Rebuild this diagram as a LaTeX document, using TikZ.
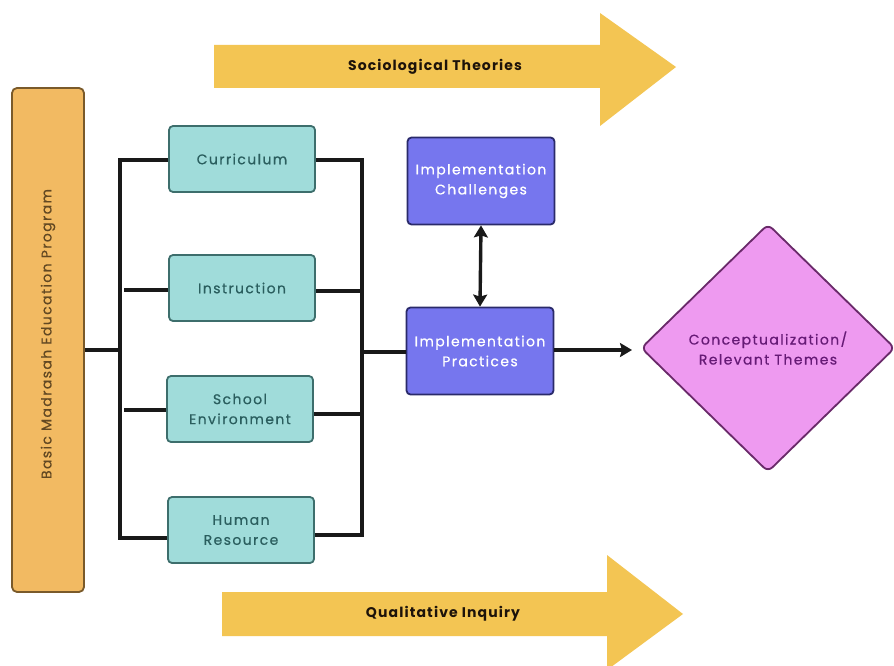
\documentclass[tikz,border=0pt]{standalone}
\usepackage{fontspec}
\setmainfont{Poppins}
\newfontfamily\lbl[LetterSpace=10,FakeBold=0.6]{Poppins}
\newfontfamily\lblb[LetterSpace=8]{Poppins}
\usetikzlibrary{shapes.geometric,arrows.meta}
\definecolor{orangefill}{HTML}{F2BA62}
\definecolor{orangeline}{HTML}{7A5A2A}
\definecolor{arrowfill}{HTML}{F3C553}
\definecolor{tealfill}{HTML}{A0DCDA}
\definecolor{tealline}{HTML}{3D6E6C}
\definecolor{tealtext}{HTML}{2A5E5E}
\definecolor{purfill}{HTML}{7676EE}
\definecolor{purline}{HTML}{2A2A6A}
\definecolor{diafill}{HTML}{EE9AF0}
\definecolor{dialine}{HTML}{6A2A6A}
\definecolor{diatext}{HTML}{661A76}
\begin{document}
\begin{tikzpicture}[x=1pt,y=-1pt,
  tealbox/.style={draw=tealline,line width=1.8pt,fill=tealfill,rounded corners=4pt,
    minimum width=146pt,minimum height=66pt,text=tealtext,align=center,
    font=\lbl\fontsize{14}{20}\selectfont,inner sep=0pt},
  purbox/.style={draw=purline,line width=1.8pt,fill=purfill,rounded corners=4pt,
    minimum width=147pt,minimum height=87pt,text=white,align=center,
    font=\lbl\fontsize{14}{20}\selectfont,inner sep=0pt},
  conn/.style={line width=3.4pt,black!90},
  bigarrow/.style={fill=arrowfill,draw=none},
  arrowtext/.style={font=\lblb\bfseries\fontsize{14}{16}\selectfont,text=black!85!brown}
]
\useasboundingbox (0,0) rectangle (894,666);
\fill[white] (0,0) rectangle (894,666);

% big arrows
\fill[bigarrow] (214,45) -- (600,45) -- (600,13) -- (676,67) -- (600,126) -- (600,88) -- (214,88) -- cycle;
\node[arrowtext] (soc) at (435,67) {Sociological Theories};
\fill[bigarrow] (222,592) -- (607,592) -- (607,555) -- (683,614) -- (607,670) -- (607,636) -- (222,636) -- cycle;
\node[arrowtext] (qual) at (443,614) {Qualitative Inquiry};

% left program box
\node[draw=orangeline,line width=1.8pt,fill=orangefill,rounded corners=5pt,
  minimum width=72pt,minimum height=504pt,inner sep=0pt] (prog) at (48,340) {};
\node[rotate=90,text=orangeline!80!black,font=\lbl\fontsize{14}{16}\selectfont] (progt) at (48,334) {Basic Madrasah Education Program};

% teal boxes
\node[tealbox] (cur) at (242,159) {Curriculum};
\node[tealbox] (ins) at (242,288) {Instruction};
\node[tealbox] (sch) at (240,409) {School\\Environment};
\node[tealbox] (hum) at (241,530) {Human\\Resource};

% purple boxes
\node[purbox] (chal) at (481,181) {Implementation\\Challenges};
\node[purbox] (prac) at (480,351) {Implementation\\Practices};

% diamond
\node[diamond,draw=dialine,line width=1.8pt,fill=diafill,rounded corners=6pt,
  minimum width=254pt,minimum height=248pt,inner sep=0pt,text=diatext,align=center,
  font=\lbl\fontsize{14}{20}\selectfont] (dia) at (768,348) {Conceptualization/\\Relevant Themes};

% left bracket
\coordinate (lt) at (120,160);
\coordinate (lb) at (120,538);
\coordinate (lm) at (120,350);
\draw[conn] (cur.west|-lt) -- (lt) -- (lb) -- (hum.west|-lb);
\draw[conn] (prog.east|-lm) -- (lm);
\draw[conn] (124,290) coordinate (l2) -- (ins.west|-l2);
\draw[conn] (124,410) coordinate (l3) -- (sch.west|-l3);

% right bracket
\coordinate (rt) at (362,160);
\coordinate (rb) at (362,535);
\coordinate (rm) at (362,352);
\draw[conn] (cur.east|-rt) -- (rt) -- (rb) -- (hum.east|-rb);
\draw[conn] (ins.east|-0,291) -- (362,291);
\draw[conn] (sch.east|-0,414) -- (362,414);
\draw[conn] (rm) -- (prac.west|-rm);

% arrows
\draw[conn,{Stealth[length=12pt,width=14pt,inset=2pt]}-{Stealth[length=12pt,width=14pt,inset=2pt]}] (chal.south) -- (prac.north);
\coordinate (dtip) at (632,350);
\draw[conn,-{Stealth[length=12pt,width=14pt,inset=2pt]}] (prac.east|-dtip) -- (dtip);
\end{tikzpicture}
\end{document}
